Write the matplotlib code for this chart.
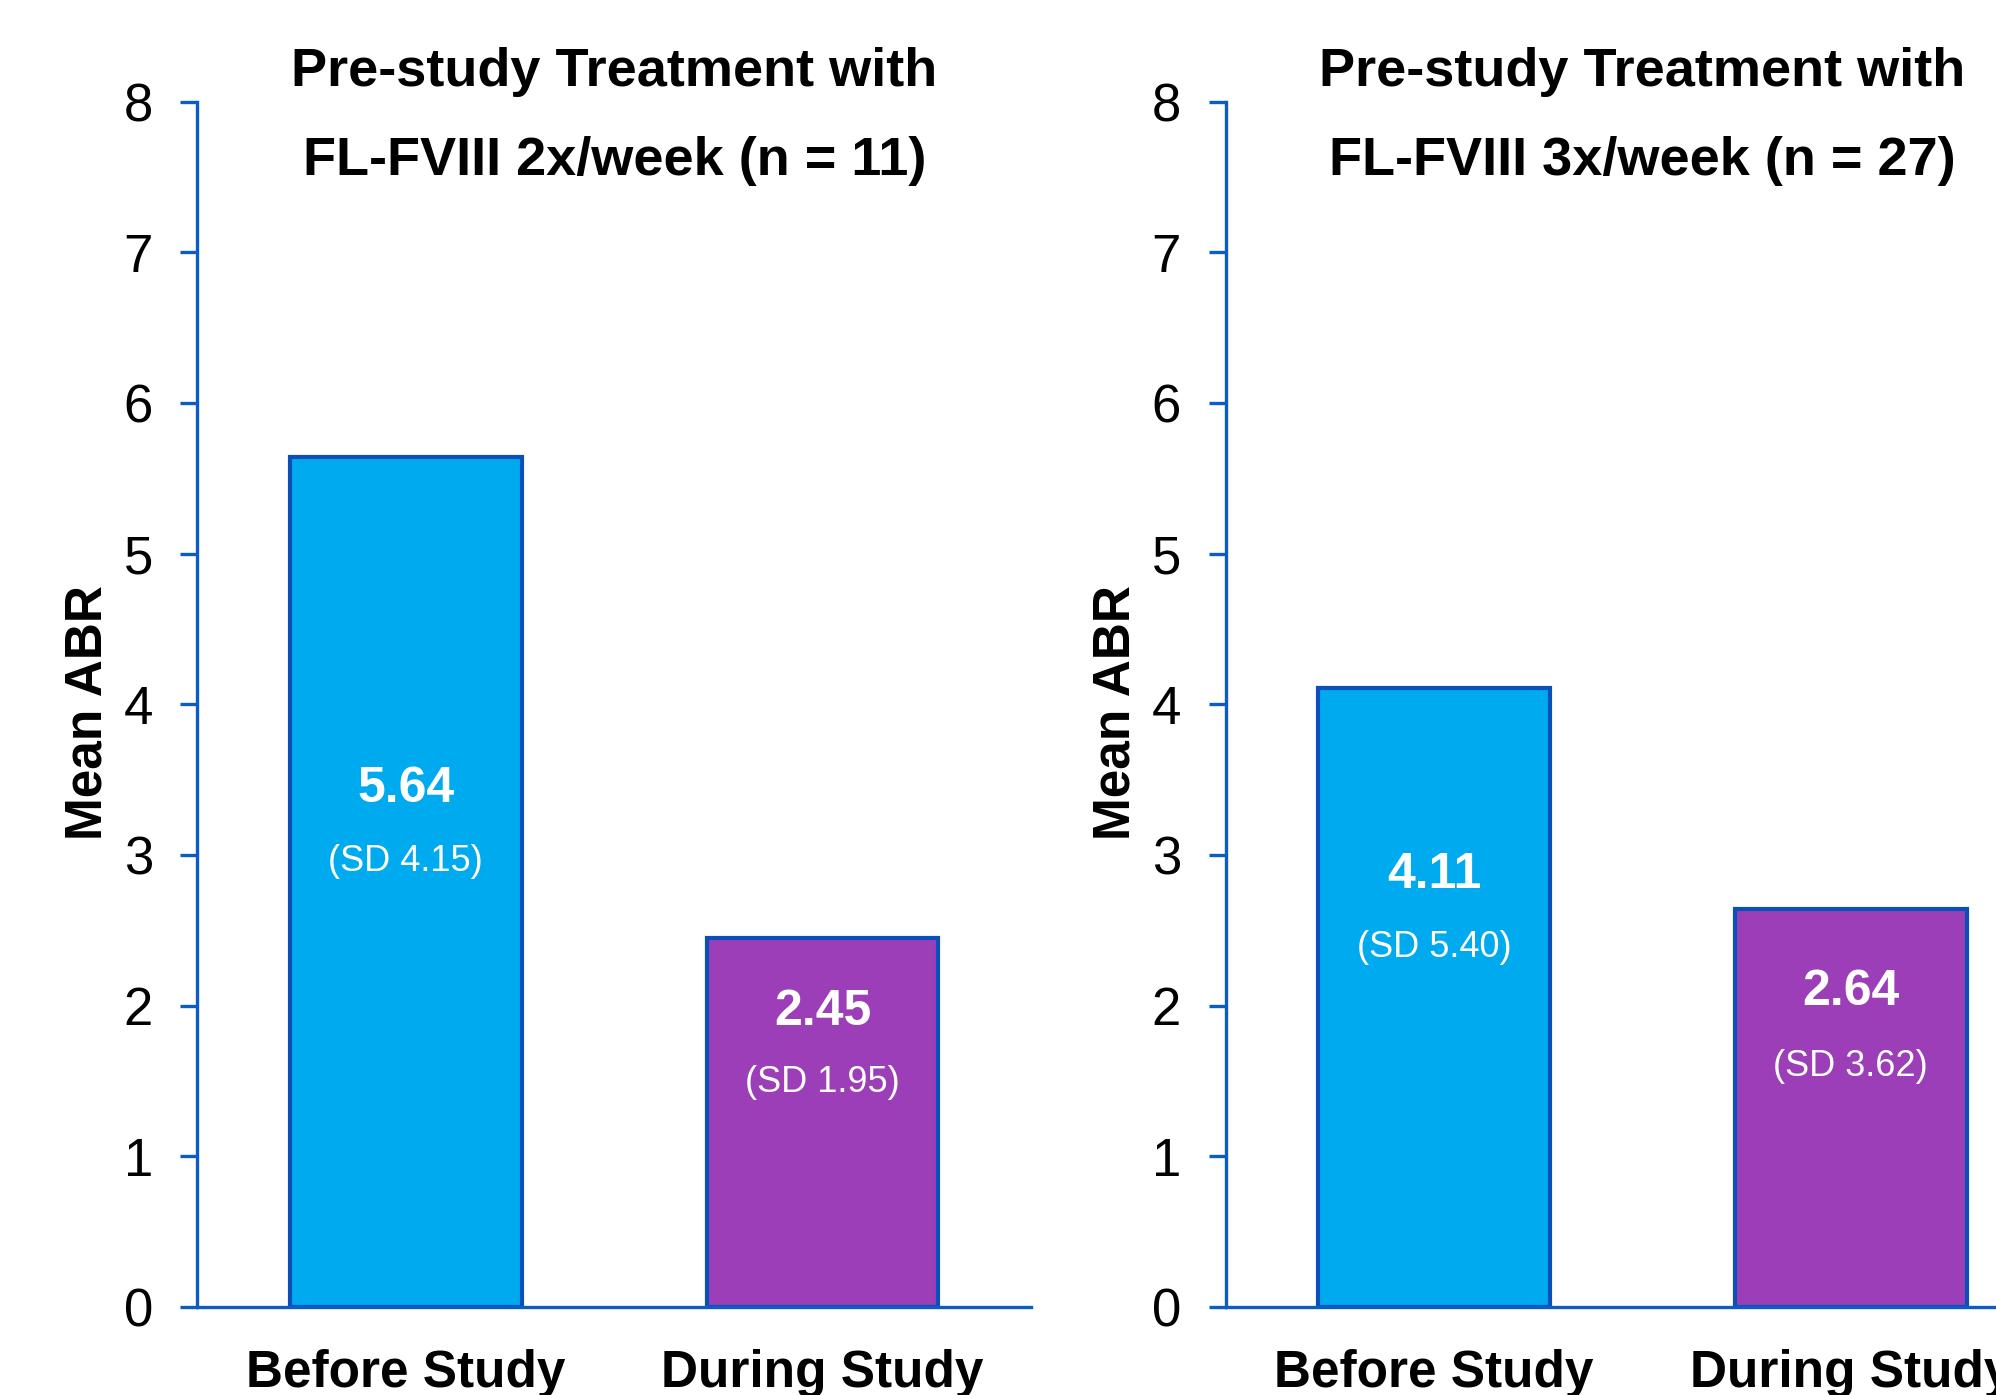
import matplotlib
matplotlib.use("Agg")
import matplotlib.pyplot as plt

plt.rcParams["font.family"] = ["Liberation Sans", "DejaVu Sans"]

categories = ["Before Study", "During Study"]
titles = [
    "Pre-study Treatment with\nFL-FVIII 2x/week (n = 11)",
    "Pre-study Treatment with\nFL-FVIII 3x/week (n = 27)",
]
mean_abr = [[5.64, 2.45], [4.11, 2.64]]
sd_abr = [[4.15, 1.95], [5.40, 3.62]]

# where the value / SD labels sit inside each bar (data units)
value_label_y = [[3.44, 1.96], [2.87, 2.09]]
sd_label_y = [[2.96, 1.49], [2.39, 1.60]]

C_BEFORE = "#00AAEE"
C_DURING = "#9C3EB8"
C_EDGE = "#0A50B8"
C_AXIS = "#0B5CC4"

fig = plt.figure(figsize=(19.96, 13.95), dpi=100)

# second panel runs past the right edge of the canvas
ax_pos = [
    [0.0989, 0.0630, 0.4177, 0.8640],
    [0.6140, 0.0630, 0.4177, 0.8640],
]

for i, pos in enumerate(ax_pos):
    ax = fig.add_axes(pos)
    x = range(len(categories))
    ax.bar(x, mean_abr[i], width=0.555, color=[C_BEFORE, C_DURING],
           edgecolor=C_EDGE, linewidth=3.0, zorder=2)

    for j in x:
        ax.text(j, value_label_y[i][j], f"{mean_abr[i][j]:.2f}", ha="center", va="center",
                color="white", fontsize=36, fontweight="bold")
        ax.text(j, sd_label_y[i][j], f"(SD {sd_abr[i][j]:.2f})", ha="center", va="center",
                color="white", fontsize=26)

    ax.set_xlim(-0.5, 1.5)
    ax.set_ylim(0, 8)
    ax.set_yticks(range(0, 9))
    ax.set_xticks(list(x))
    ax.set_xticklabels(categories, fontsize=37, fontweight="bold")

    for side in ("top", "right"):
        ax.spines[side].set_visible(False)
    for side in ("left", "bottom"):
        ax.spines[side].set_color(C_AXIS)
        ax.spines[side].set_linewidth(2.4)

    ax.tick_params(axis="y", colors=C_AXIS, labelcolor="black", labelsize=38,
                   width=2.4, length=12, pad=20)
    ax.tick_params(axis="x", length=0, pad=30)

    ax.set_ylabel("Mean ABR", fontsize=37, fontweight="bold")
    ax.yaxis.set_label_coords(-0.102, 0.493)

    ax.text(0.5, 0.988, titles[i], transform=ax.transAxes, ha="center", va="center",
            fontsize=39, fontweight="bold", linespacing=2.0)

fig.savefig("out.png", dpi=100)
